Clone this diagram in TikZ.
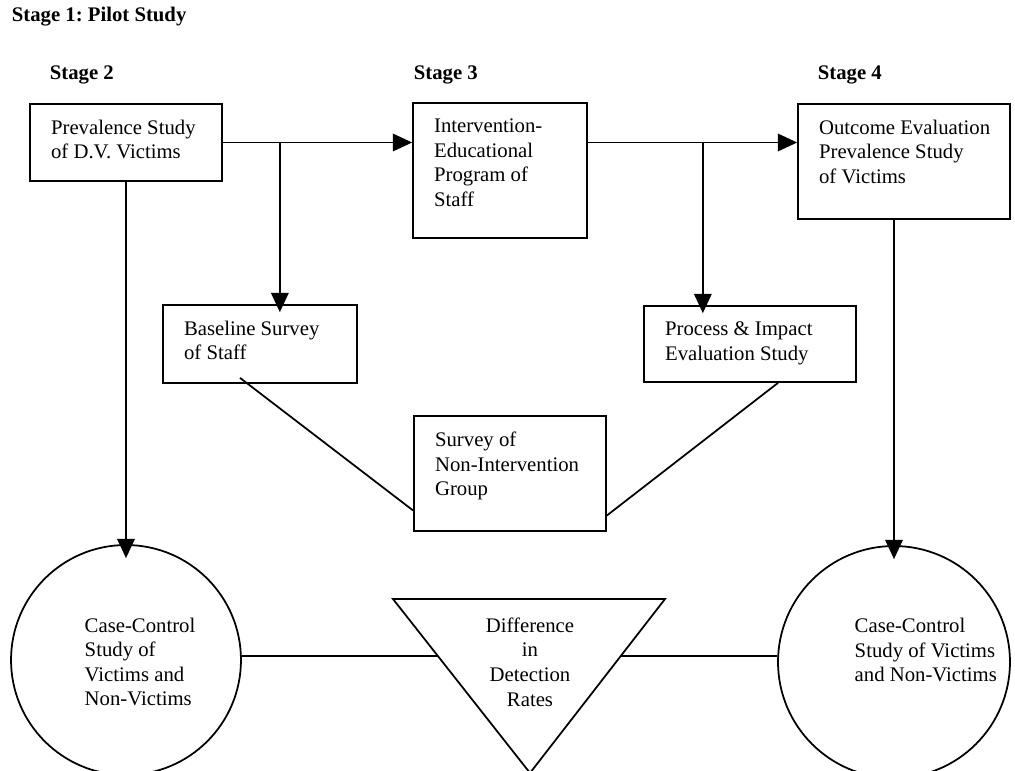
\documentclass[tikz,border=0pt]{standalone}
\usepackage{fontspec}
\setmainfont{Liberation Serif}
\usetikzlibrary{calc}
\usetikzlibrary{arrows.meta}
\frenchspacing

\begin{document}
\begin{tikzpicture}[x=0.02cm, y=-0.02cm, line width=1pt,
  every node/.style={font=\fontsize{11.8pt}{14pt}\selectfont},
  stagebox/.style={draw, rectangle, inner sep=0pt},
  boxtext/.style={anchor=north west, align=left, inner xsep=12pt, inner ysep=9pt},
  stagelabel/.style={anchor=west, inner sep=0pt, font=\fontsize{11.8pt}{14pt}\selectfont\bfseries},
  studycircle/.style={draw, circle, inner sep=0pt},
  arr/.style={-{Triangle[length=11pt,width=10pt]}}]

\useasboundingbox (0,0) rectangle (1015,771);

\node[stagelabel] (st1) at (11,17) {Stage 1: Pilot Study};
\node[stagelabel] (st2) at (49,75) {Stage 2};
\node[stagelabel] (st3) at (413,75) {Stage 3};
\node[stagelabel] (st4) at (817,75) {Stage 4};

\node[stagebox, minimum width=3.84cm, minimum height=1.54cm] (prev) at (126,142.5) {};
\node[boxtext] (prevtxt) at (prev.north west) {Prevalence Study\\of D.V. Victims};
\node[stagebox, minimum width=3.48cm, minimum height=2.7cm] (interv) at (500,170.5) {};
\node[boxtext] (intervtxt) at (interv.north west) {Intervention-\\Educational\\Program of\\Staff};
\node[stagebox, minimum width=4.24cm, minimum height=2.3cm] (outcome) at (904,161.5) {};
\node[boxtext] (outcometxt) at (outcome.north west) {Outcome Evaluation\\Prevalence Study\\of Victims};

\node[stagebox, minimum width=3.88cm, minimum height=1.56cm] (base) at (260,344) {};
\node[boxtext] (basetxt) at (base.north west) {Baseline Survey\\of Staff};
\node[stagebox, minimum width=4.24cm, minimum height=1.52cm] (proc) at (750,344) {};
\node[boxtext] (proctxt) at (proc.north west) {Process \& Impact\\Evaluation Study};
\node[stagebox, minimum width=3.84cm, minimum height=2.3cm] (survey) at (510,473.5) {};
\node[boxtext] (surveytxt) at (survey.north west) {Survey of\\Non-Intervention\\Group};

\node[studycircle, minimum size=4.6cm] (c1) at (126,660) {};
\node[anchor=west, align=left] (c1txt) at (78,662) {Case-Control\\Study of\\Victims and\\Non-Victims};
\node[studycircle, minimum size=4.64cm] (c2) at (894,662) {};
\node[anchor=west, align=left] (c2txt) at (848,650) {Case-Control\\Study of Victims\\and Non-Victims};

\coordinate (tl) at (393,599);
\coordinate (tr) at (665,599);
\coordinate (tb) at (530,773);
\draw (tl) -- (tr) -- (tb) -- cycle;
\node[align=center] (difftxt) at (530,662) {Difference\\in\\Detection\\Rates};

\coordinate (ja) at ($(prev.east)+(57,0)$);
\coordinate (jb) at ($(prev.east -| interv.east)+(115,0)$);
\draw[arr] (prev.east) -- (prev.east -| interv.west);
\draw[arr] (prev.east -| interv.east) -- (prev.east -| outcome.west);
\draw[arr] (ja) -- ($(ja |- base.north)+(0,8)$);
\draw[arr] (jb) -- ($(jb |- proc.north)+(0,8)$);
\draw[arr] (prev.south) -- ($(c1.north)+(0,14)$);
\draw[arr] (c2.north |- outcome.south) -- ($(c2.north)+(0,14)$);

\draw ($(base.south)+(-20,-6)$) -- ($(survey.west)+(0,37)$);
\draw ($(proc.south)+(28,0)$) -- ($(survey.east)+(0,42)$);
\draw ($(c1.east)+(0,-4)$) -- ($(tl)!0.328!(tb)$);
\draw ($(tr)!0.328!(tb)$) -- ($(c2.west)+(0,-6)$);

\end{tikzpicture}
\end{document}
